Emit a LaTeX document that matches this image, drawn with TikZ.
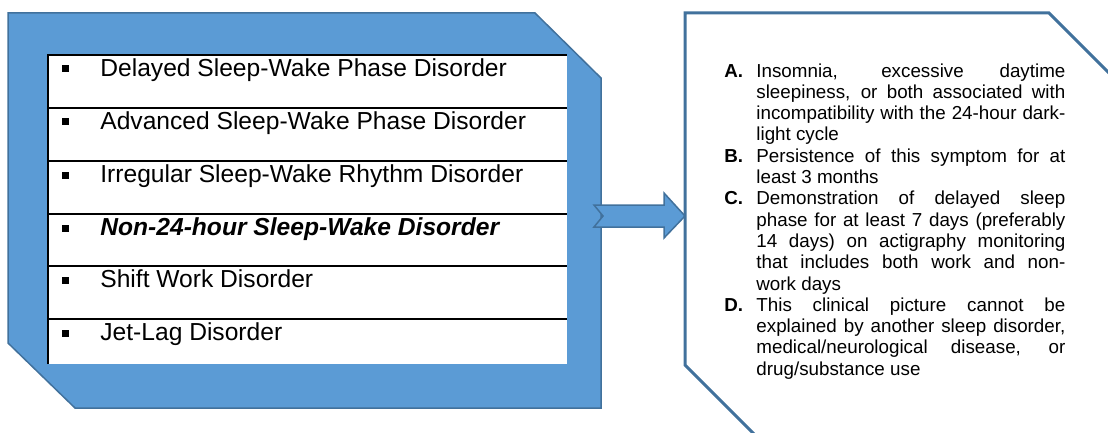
\documentclass[tikz,border=0pt]{standalone}
\usepackage{fontspec}
\setmainfont{Liberation Sans}
\usetikzlibrary{positioning,calc}
\definecolor{cFill}{HTML}{5B9BD5}
\definecolor{cEdge}{HTML}{41719C}
\newcommand{\critem}[2]{\hangindent=16pt\hangafter=1\noindent\makebox[16pt][l]{\textbf{#1}}#2\par}
\tikzset{
  frame/.style  ={fill=cFill, draw=cEdge, line width=0.75pt},
  outline/.style={draw=cEdge, line width=1.5pt},
  rowline/.style={draw=black, line width=0.75pt},
  rowtxt/.style ={anchor=base west, inner sep=0pt, font=\fontsize{12.3}{14}\selectfont},
  bul/.style    ={rectangle, fill=black, minimum size=3.5pt, inner sep=0pt},
  crit/.style   ={anchor=north west, inner sep=0pt, text width=170.5pt, align=justify,
                  font=\fontsize{9.4}{10.65}\selectfont},
}

\begin{document}
\begin{tikzpicture}[x=0.5pt,y=-0.5pt]
  \useasboundingbox (0,0) rectangle (1108,433);
  \clip (0,0) rectangle (1108,433);
  \draw[frame] (8,13) -- (535,13) -- (601,78) -- (601,408) -- (75,408) -- (8,343) -- cycle;
  \fill[white] (48,55) rectangle (567,364);
  \draw[rowline] (48,364) -- (48,55) -- (567,55);
  \draw[rowline] (48,108) -- (567,108);
  \draw[rowline] (48,161) -- (567,161);
  \draw[rowline] (48,214) -- (567,214);
  \draw[rowline] (48,266) -- (567,266);
  \draw[rowline] (48,319) -- (567,319);
  \node[bul] (b1) at (65,69) {};
  \node[rowtxt] (r1) at (100,76.5) {Delayed Sleep-Wake Phase Disorder};
  \node[bul] (b2) at (65,122) {};
  \node[rowtxt] (r2) at (100,129.5) {Advanced Sleep-Wake Phase Disorder};
  \node[bul] (b3) at (65,175) {};
  \node[rowtxt] (r3) at (100,182.5) {Irregular Sleep-Wake Rhythm Disorder};
  \node[bul] (b4) at (65,228) {};
  \node[rowtxt] (r4) at (100,235.5) {\textbf{\textit{Non-24-hour Sleep-Wake Disorder}}};
  \node[bul] (b5) at (65,280) {};
  \node[rowtxt] (r5) at (100,287.5) {Shift Work Disorder};
  \node[bul] (b6) at (65,333) {};
  \node[rowtxt] (r6) at (100,340.5) {Jet-Lag Disorder};
  \draw[frame] (594,205) -- (664,205) -- (664,193) -- (685,216) -- (664,238) -- (664,227)
    -- (594,227) -- (603,216) -- cycle;
  \draw[outline] (775,455) -- (685,365) -- (685,13) -- (1049,13) -- (1130,94);
  \node[crit] (crit) at (724,63) {%
    \critem{A.}{Insomnia, excessive daytime\linebreak sleepiness, or both associated with\linebreak incompatibility with the 24-hour dark-\linebreak light cycle}%
    \critem{B.}{Persistence of this symptom for at\linebreak least 3 months}%
    \critem{C.}{Demonstration of delayed sleep\linebreak phase for at least 7 days (preferably\linebreak 14 days) on actigraphy monitoring\linebreak that includes both work and non-\linebreak work days}%
    \critem{D.}{This clinical picture cannot be\linebreak explained by another sleep disorder,\linebreak medical/neurological disease, or\linebreak drug/substance use}};
\end{tikzpicture}
\end{document}
